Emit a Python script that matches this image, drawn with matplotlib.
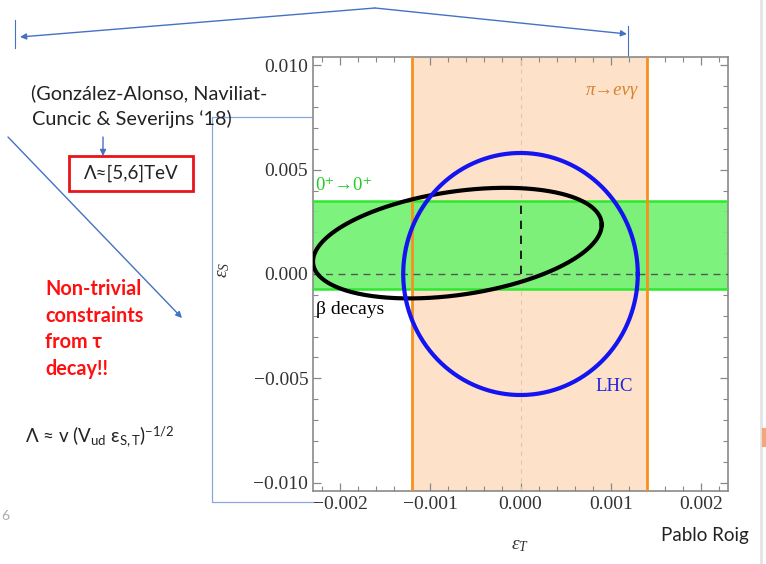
import numpy as np
import matplotlib.pyplot as plt
from matplotlib.ticker import MultipleLocator, FuncFormatter
from matplotlib.patches import Rectangle

plt.rcParams['mathtext.fontset'] = 'custom'
plt.rcParams['mathtext.rm'] = 'Lato'
plt.rcParams['mathtext.it'] = 'Liberation Serif:italic'

# eps_T band from pi -> e nu gamma
pi_band = [-0.0012, 0.0014]
# eps_S band from superallowed 0+ -> 0+ decays
superallowed_band = [-0.0007, 0.0035]

# LHC bound: centre and semi-axes
lhc_center = [0.0, 0.0]
lhc_axes = [0.0013, 0.0058]

# beta decays: centre, half extent in x and y, phase between x and y
beta_center = [-0.0007, 0.00148]
beta_half = [0.0016, 0.00265]
beta_phase = 70.6

x_ticks = [-0.002, -0.001, 0.0, 0.001, 0.002]
y_ticks = [-0.010, -0.005, 0.0, 0.005, 0.010]
x_range = [-0.0023, 0.0023]
y_range = [-0.0104, 0.0104]

W, H = 766, 564
blue = '#4472c4'
serif = ['Liberation Serif', 'DejaVu Serif']
sans = ['Lato', 'DejaVu Sans']

fig = plt.figure(figsize=(W / 100, H / 100), dpi=100)

# slide layer in pixel units
ov = fig.add_axes([0, 0, 1, 1])
ov.set_xlim(0, W)
ov.set_ylim(H, 0)
ov.axis('off')

# plot box
L, R, T, B = 313, 728, 57, 491
ax = fig.add_axes([L / W, 1 - B / H, (R - L) / W, (B - T) / H])

ax.axvspan(pi_band[0], pi_band[1], color='#fde2c9', lw=0, zorder=1)
for xv in pi_band:
    ax.axvline(xv, color='#f7901e', lw=2, zorder=4)

ax.axhspan(superallowed_band[0], superallowed_band[1], color='#72f272', alpha=0.92, lw=0, zorder=2)
for yv in superallowed_band:
    ax.axhline(yv, color='#2ee82e', lw=1.8, zorder=3)

ax.axvline(0, color='#d8c8b8', lw=0.8, ls=(0, (4, 4)), zorder=2.5)
ax.axhline(0, color='#555555', lw=1, ls=(0, (5, 4)), zorder=5)
ax.plot([0, 0], [0, superallowed_band[1]], color='black', lw=1.2, ls=(0, (5, 4)), zorder=5)

t = np.linspace(0, 2 * np.pi, 400)
bx = beta_center[0] + beta_half[0] * np.cos(t)
by = beta_center[1] + beta_half[1] * np.cos(t - np.radians(beta_phase))
ax.plot(bx, by, color='black', lw=3, zorder=6)

lx = lhc_center[0] + lhc_axes[0] * np.cos(t)
ly = lhc_center[1] + lhc_axes[1] * np.sin(t)
ax.plot(lx, ly, color='#1414f0', lw=3, zorder=7)

ax.text(0.0013, 0.0088, 'π→eνγ', color='#d4842f', fontsize=13.5, style='italic',
        family=serif, ha='right', va='center', zorder=8)
ax.text(-0.00227, 0.00425, '0⁺→0⁺', color='#22cc22', fontsize=13.5,
        family=serif, ha='left', va='center', zorder=8)
ax.text(-0.00227, -0.0017, 'β decays', color='black', fontsize=14,
        family=serif, ha='left', va='center', zorder=8)
ax.text(0.00104, -0.0054, 'LHC', color='#2020e0', fontsize=13.5,
        family=serif, ha='center', va='center', zorder=8)

ax.set_xlim(x_range)
ax.set_ylim(y_range)
ax.set_xticks(x_ticks)
ax.set_yticks(y_ticks)
ax.xaxis.set_minor_locator(MultipleLocator(0.0002))
ax.yaxis.set_minor_locator(MultipleLocator(0.001))
fmt = FuncFormatter(lambda v, p: f'{v:.3f}'.replace('-', '\u2212') if abs(v) > 1e-12 else '0.000')
ax.xaxis.set_major_formatter(fmt)
ax.yaxis.set_major_formatter(fmt)
ax.tick_params(which='both', direction='in', top=True, right=True, color='#888888',
               labelsize=14, labelcolor='#333333')
ax.tick_params(which='major', length=6, width=0.9)
ax.tick_params(which='minor', length=3.5, width=0.8)
for lab in ax.get_xticklabels() + ax.get_yticklabels():
    lab.set_family(serif)
for s in ax.spines.values():
    s.set_color('#8a8a8a')
    s.set_linewidth(1.2)

ax.set_xlabel(r'$\epsilon_T$', fontsize=14, color='#333333')
ax.xaxis.set_label_coords(0.5, (B - 535) / (B - T))
ax.set_ylabel(r'$\epsilon_S$', fontsize=14, color='#333333')
ax.yaxis.set_label_coords((232 - L) / (R - L), (B - 270) / (B - T))

# slide connectors
arrow = dict(arrowstyle='-|>', color=blue, lw=1, mutation_scale=9, shrinkA=0, shrinkB=0)
ov.annotate('', xy=(20, 37), xytext=(375, 8), arrowprops=arrow)
ov.annotate('', xy=(627, 34), xytext=(375, 8), arrowprops=arrow)
ov.plot([15, 15], [20, 48], color=blue, lw=0.8)
ov.plot([628, 628], [26, 57], color=blue, lw=0.8)
ov.annotate('', xy=(182, 318), xytext=(8, 137), arrowprops=arrow)
ov.annotate('', xy=(103, 156), xytext=(103, 137), arrowprops=arrow)
ov.plot([L, 212, 212, L], [117, 117, 502, 502], color='#8aa8dc', lw=0.9)

ov.text(31, 93, '(González-Alonso, Naviliat-', fontsize=14.3, family=sans,
        color='#222222', va='center')
ov.text(32, 119, 'Cuncic & Severijns ‘18)', fontsize=14.3, family=sans,
        color='#222222', va='center')

ov.add_patch(Rectangle((69, 156), 124, 35, fill=False, edgecolor='#e8141a', lw=2))
ov.text(131, 173, 'Λ≈[5,6]TeV', fontsize=13.5, family=sans, color='#222222',
        ha='center', va='center')

ov.text(45, 329, 'Non-trivial\nconstraints\nfrom τ\ndecay!!', fontsize=14.3, family=sans,
        weight='bold', color='#ff1010', va='center', linespacing=1.42)

ov.text(25, 437, r'Λ ≈ v (V$_{\mathrm{ud}}$ ε$_{\mathrm{S,T}}$)$^{\mathrm{-1/2}}$',
        fontsize=13.5, family=sans, color='#222222', va='center')

ov.text(1, 516, '6', fontsize=10, family=sans, color='#aaaaaa', va='center')
ov.text(749, 535, 'Pablo Roig', fontsize=13.5, family=sans, color='#222222',
        ha='right', va='center')

ov.plot([761, 761], [0, H], color='#e4e4e4', lw=2)
ov.plot([764, 764], [430, 445], color='#f4a67a', lw=3)

fig.savefig('out.png', dpi=100)
